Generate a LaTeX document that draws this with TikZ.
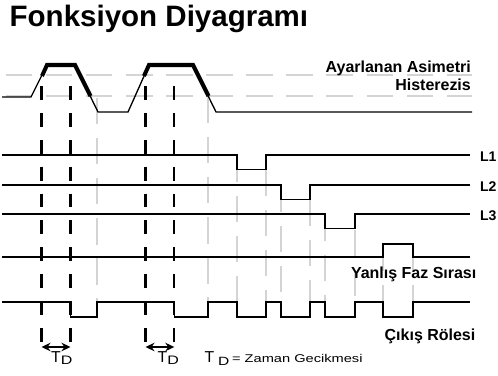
\documentclass[tikz,border=0pt]{standalone}
\usepackage{fontspec}
\setmainfont{Liberation Sans}
\usepackage{graphicx}
\usetikzlibrary{arrows.meta}

\begin{document}
\begin{tikzpicture}[x=0.02cm, y=-0.02cm,
  >={Stealth[length=1.8mm, width=1.7mm]}, line width=0.75pt,
  guide/.style={draw=black!17, line width=0.9pt, dash pattern=on 15pt off 7.8pt},
  hyst/.style={line width=2.3pt},
  delay/.style={line width=1.2pt, dash pattern=on 7.9pt off 7.4pt},
  lbl/.style={inner sep=0pt, font=\fontsize{9.1}{10}\selectfont\bfseries},
  lsmall/.style={inner sep=0pt, font=\fontsize{8}{9}\selectfont\bfseries},
  tsize/.style={inner sep=0pt, font=\fontsize{9}{10}\selectfont}]

  \useasboundingbox (0,0) rectangle (498,376);

  % baslik
  \node[inner sep=0pt, anchor=base west, font=\fontsize{16.8}{18}\selectfont\bfseries]
    (title) at (9,26) {Fonksiyon Diyagramı};

  % gri kilavuz cizgileri
  \draw[guide] (6,75) -- (472,75);
  \draw[guide] (6,96) -- (472,96);
  \foreach \x/\y in {97/98, 208/97, 237/156, 266/170, 281/186, 310/200,
                     325/215, 355/230, 383/245, 413/245}
    \draw[guide] (\x,\y) -- (\x,302);

  % giris sinyali ve histerezis
  \draw (2,97) -- (31,97) -- (47,65) -- (75,65) -- (98,112) -- (128,112)
    -- (149,65) -- (193,65) -- (216,112) -- (472,112);
  \draw[hyst] (42,76) -- (47,65) -- (75,65) -- (90.5,96);
  \draw[hyst] (144,76) -- (149,65) -- (193,65) -- (208.5,96);
  \node[lbl, anchor=base east] (asim) at (471.5,72.5) {Ayarlanan Asimetri};
  \node[lbl, anchor=base east] (hist) at (471.5,90) {Histerezis};

  % faz hatlari L1..L3
  \foreach \y/\a/\b/\n in {155/237/266/1, 185/281/310/2, 214/325/355/3} {
    \draw (2,\y) -- (\a,\y) -- (\a,\y+14.5) -- (\b,\y+14.5) -- (\b,\y) -- (470,\y);
    \node[lsmall, anchor=base west] (L\n) at (479.5,\y+6.5) {L\n};
  }

  % yanlis faz sirasi
  \draw (2,257) -- (383,257) -- (383,244) -- (413,244) -- (413,257) -- (470,257);
  \node[lbl, anchor=base east] (yfs) at (477,278.5) {Yanlış Faz Sırası};

  % cikis rolesi
  \draw (2,302) -- (70.5,302) -- (70.5,317) -- (97,317) -- (97,302) -- (174.3,302)
    -- (174.3,317) -- (208,317) -- (208,302) -- (237,302) -- (237,317) -- (266,317)
    -- (266,302) -- (281,302) -- (281,317) -- (310,317) -- (310,302) -- (325,302)
    -- (325,317) -- (355,317) -- (355,302) -- (383,302) -- (383,317) -- (413,317)
    -- (413,302) -- (470,302);
  \node[lbl, anchor=base east] (role) at (476,340) {Çıkış Rölesi};

  % gecikme cizgileri
  \foreach \x/\n in {41.5/1, 70.5/2, 145.5/3, 174.3/4} {
    \coordinate (u\n) at (\x,86);
    \coordinate (v\n) at (\x,347);
    \draw[delay] (u\n) -- (v\n);
  }
  \draw[<->, line width=1.1pt] (v1) -- (v2);
  \draw[<->, line width=1.1pt] (v3) -- (v4);
  \node[tsize, anchor=base west] (td1) at (50.5,362)
    {T\raisebox{-1.6pt}{\scalebox{1.3}[1]{\fontsize{7}{8}\selectfont D}}};
  \node[tsize, anchor=base west] (td2) at (157,362)
    {T\raisebox{-1.6pt}{\scalebox{1.3}[1]{\fontsize{7}{8}\selectfont D}}};

  % aciklama
  \node[tsize, anchor=base west] (tdn) at (204,362)
    {T\hspace{2.2pt}\raisebox{-1.8pt}{\scalebox{1.3}[1]{\fontsize{6.8}{8}\selectfont D}}};
  \node[inner sep=0pt, anchor=base west] (tdtxt) at (231.5,362)
    {\scalebox{1.3}[1]{\fontsize{6.4}{8}\selectfont = Zaman Gecikmesi}};
\end{tikzpicture}
\end{document}
